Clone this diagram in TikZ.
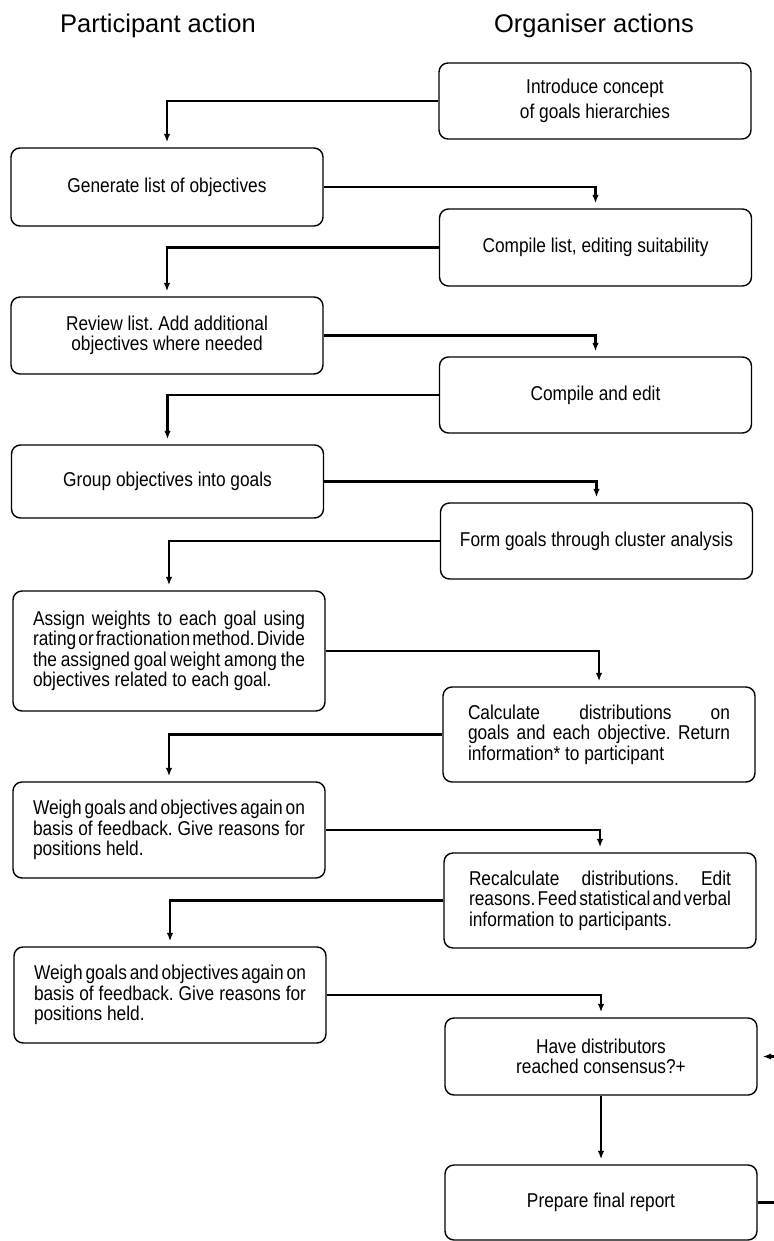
\documentclass[tikz,border=0pt]{standalone}
\usepackage{fontspec}
\setmainfont[FakeStretch=0.865]{Liberation Sans}
\newfontfamily\headfont{Liberation Sans}
\usetikzlibrary{arrows.meta}

% one justified line, and one last (ragged) line of a paragraph
\newcommand{\jline}[1]{\hbox to\hsize{\spaceskip=.25em plus 1fil minus .15em #1}}
\newcommand{\rline}[1]{\hbox to\hsize{#1\hfil}}

\begin{document}
\begin{tikzpicture}[x=1pt, y=-1pt, >={Latex[length=8.5pt,width=6.5pt]},
  stepbox/.style={draw, line width=1.4pt, rounded corners=9pt,
    minimum width=312pt, inner sep=0pt, align=center,
    font=\fontsize{20}{20.5}\selectfont\frenchspacing},
  flow/.style={->, line width=2.2pt, shorten >=5pt},
  heading/.style={anchor=base, font=\headfont\fontsize{25.5}{30}\selectfont}]

\useasboundingbox (0,0) rectangle (773,1241);

% Column headings
\node[heading] (parthead) at (158,33) {Participant action};
\node[heading] (orghead) at (594,33) {Organiser actions};

% Steps
\node[stepbox, minimum height=76pt] (intro) at (595,101) {Introduce concept\\[4pt]of goals hierarchies};
\node[stepbox, minimum height=78pt] (gen) at (167,187) {Generate list of objectives};
\node[stepbox, minimum height=77pt] (comp) at (595.5,247.5) {Compile list, editing suitability};
\node[stepbox, minimum height=77pt] (review) at (167,335.5) {Review list. Add additional\\objectives where needed};
\node[stepbox, minimum height=76pt] (edit) at (595.5,395) {Compile and edit};
\node[stepbox, minimum height=73pt] (group) at (167.5,481.5) {Group objectives into goals};
\node[stepbox, minimum height=76pt] (form) at (596.5,541) {Form goals through cluster analysis};

\node[stepbox, minimum height=120pt] (assign) at (169,651) {\vbox{\hsize=272pt
  \jline{Assign weights to each goal using}
  \jline{rating or fractionation method. Divide}
  \jline{the assigned goal weight among the}
  \rline{objectives related to each goal.}}};

\node[stepbox, minimum height=95pt] (calc) at (599,734.5) {\vbox{\hsize=262pt
  \jline{Calculate distributions on}
  \jline{goals and each objective. Return}
  \rline{information* to participant}}};

\node[stepbox, minimum height=96pt] (weigh1) at (169,830) {\vbox{\hsize=272pt
  \jline{Weigh goals and objectives again on}
  \jline{basis of feedback. Give reasons for}
  \rline{positions held.}}};

\node[stepbox, minimum height=95pt] (recalc) at (600,900.5) {\vbox{\hsize=262pt
  \jline{Recalculate distributions. Edit}
  \jline{reasons. Feed statistical and verbal}
  \rline{information to participants.}}};

\node[stepbox, minimum height=96pt] (weigh2) at (170,995) {\vbox{\hsize=272pt
  \jline{Weigh goals and objectives again on}
  \jline{basis of feedback. Give reasons for}
  \rline{positions held.}}};

\node[stepbox, minimum height=77pt] (cons) at (601,1056.5) {Have distributors\\reached consensus?+};
\node[stepbox, minimum height=75pt] (final) at (601,1202.5) {Prepare final report};

% Connectors
\draw[flow] (intro.west) -| (gen.north);
\draw[flow] (gen.east) -| (comp.north);
\draw[flow] (comp.west) -| (review.north);
\draw[flow] (review.east) -| (edit.north);
\draw[flow] (edit.west) -| (group.north);
\draw[flow] (group.east) -| (form.north);
\draw[flow] (form.west) -| (assign.north);
\draw[flow] (assign.east) -| (calc.north);
\draw[flow] (calc.west) -| (weigh1.north);
\draw[flow] (weigh1.east) -| (recalc.north);
\draw[flow] (recalc.west) -| (weigh2.north);
\draw[flow] (weigh2.east) -| (cons.north);
\draw[flow] (cons) -- (final);

% Loop back, cut off at the right edge
\draw[flow] (final.east) -- ++(30,0) |- (cons.east);

\end{tikzpicture}
\end{document}
